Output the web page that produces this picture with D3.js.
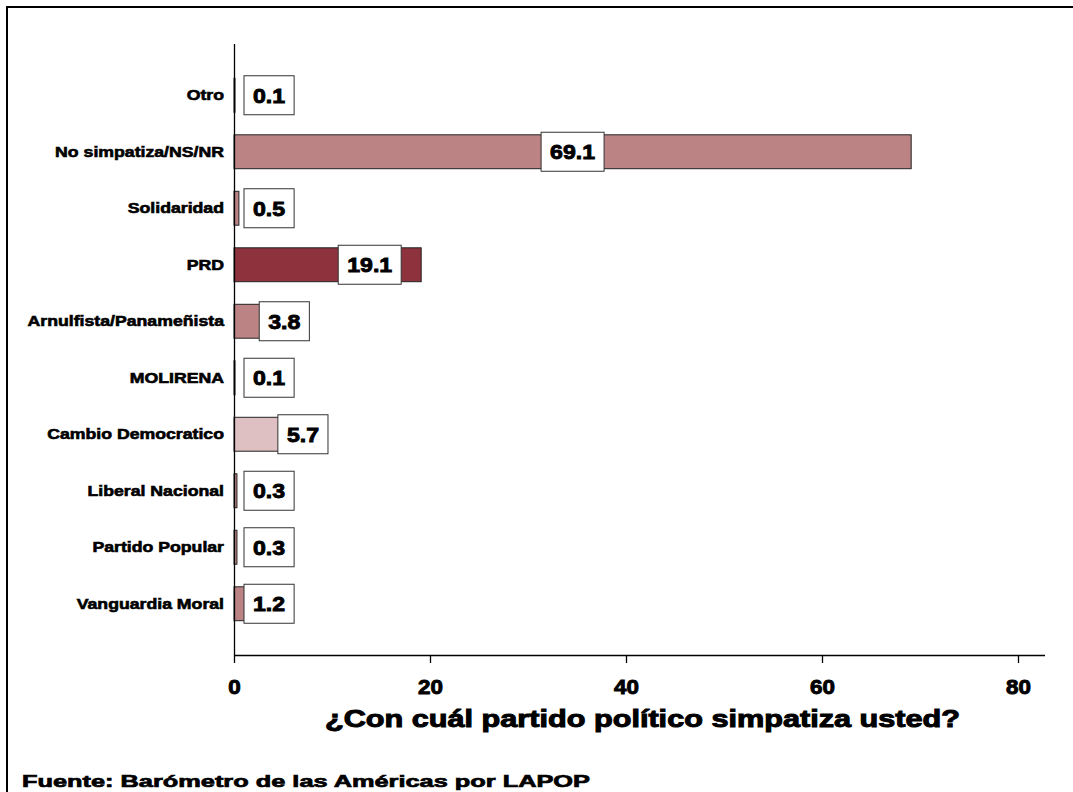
<!DOCTYPE html>
<html>
<head>
<meta charset="utf-8">
<script src="https://cdn.jsdelivr.net/npm/d3@7"></script>
<style>
  html, body { margin: 0; padding: 0; background: #fff; }
  svg { display: block; font-family: "Liberation Sans", Arial, sans-serif; font-weight: bold; }
</style>
</head>
<body>
<svg id="chart" width="1073" height="792"></svg>
<script>
// ---- data ----
const categories = ["Otro", "No simpatiza/NS/NR", "Solidaridad", "PRD", "Arnulfista/Panameñista",
                    "MOLIRENA", "Cambio Democratico", "Liberal Nacional", "Partido Popular", "Vanguardia Moral"];
const values = [0.1, 69.1, 0.5, 19.1, 3.8, 0.1, 5.7, 0.3, 0.3, 1.2];
const barColors = ["#BC8385", "#BC8385", "#BC8385", "#8E333D", "#BC8385",
                   "#BC8385", "#DFC0C2", "#BC8385", "#BC8385", "#BC8385"];
const xTicks = [0, 20, 40, 60, 80];
const xTitle = "¿Con cuál partido político simpatiza usted?";
const source = "Fuente: Barómetro de las Américas por LAPOP";

const svg = d3.select("#chart");

// outer frame (only top and left edges fall inside the picture)
svg.append("rect").attr("x", 7).attr("y", 7).attr("width", 1100).attr("height", 820)
  .attr("fill", "none").attr("stroke", "#000").attr("stroke-width", 2);

const x = d3.scaleLinear().domain([0, 80]).range([234, 1018]);
const y = d3.scaleBand().domain(categories).range([67, 632]).paddingInner(0.4).paddingOuter(0.2);

const data = categories.map((c, i) => ({ c, v: values[i], col: barColors[i] }));

// bars
svg.append("g").selectAll("rect").data(data).join("rect")
  .attr("x", x(0))
  .attr("y", d => y(d.c))
  .attr("width", d => Math.max(1, x(d.v) - x(0)))
  .attr("height", y.bandwidth())
  .attr("fill", d => d.col)
  .attr("stroke", "#222").attr("stroke-width", 1);

// y axis line
svg.append("line").attr("x1", 234.5).attr("x2", 234.5).attr("y1", 44).attr("y2", 655)
  .attr("stroke", "#000").attr("stroke-width", 1.3);

// x axis
const xAxis = svg.append("g").attr("transform", "translate(0,655)")
  .call(d3.axisBottom(x).tickValues(xTicks).tickSize(8).tickFormat(d3.format("d")).tickPadding(14));
xAxis.select(".domain").attr("d", "M234,0.5H1045").attr("stroke", "#000").attr("stroke-width", 1.3);
xAxis.selectAll(".tick line").attr("stroke", "#000").attr("stroke-width", 1.3);
xAxis.selectAll(".tick text")
  .attr("font-size", 20).attr("font-family", "Liberation Sans, Arial, sans-serif").attr("font-weight", "bold")
  .attr("fill", "#000").attr("stroke", "#000").attr("stroke-width", 0.9)
  .attr("dy", null).attr("y", 39)
  .attr("transform", "scale(1.12,1)");

// category labels
const catG = svg.append("g");
data.forEach(d => {
  catG.append("g").attr("transform", `translate(224,${y(d.c) + y.bandwidth() / 2}) scale(1.22,1)`)
    .append("text").attr("text-anchor", "end").attr("dy", "0.36em")
    .attr("font-size", 14.5).attr("fill", "#000").attr("stroke", "#000").attr("stroke-width", 0.6)
    .text(d.c);
});

// value labels in boxes
const labG = svg.append("g");
const fmt = d3.format(".1f");
const sx = 1.1;
data.forEach(d => {
  const g = labG.append("g");
  const rect = g.append("rect");
  const t = g.append("text").attr("font-size", 21).attr("fill", "#000")
    .attr("stroke", "#000").attr("stroke-width", 0.9)
    .attr("text-anchor", "middle").text(fmt(d.v));
  const tw = t.node().getComputedTextLength() * sx;
  const bw = tw + 18, bh = 39;
  let left;
  if (d.v >= 50) left = (x(0) + x(d.v)) / 2 - bw / 2;
  else if (d.v >= 10) left = x(d.v) - 20 - bw;
  else left = Math.max(x(d.v) - 12, x(0) + 10);
  const cy = y(d.c) + y.bandwidth() / 2;
  rect.attr("x", left).attr("y", cy - bh / 2).attr("width", bw).attr("height", bh)
    .attr("fill", "#fff").attr("stroke", "#333").attr("stroke-width", 1);
  t.attr("transform", `translate(${left + bw / 2},${cy + 7.5}) scale(${sx},1)`);
});

// axis title
svg.append("text").attr("x", 325).attr("y", 727).attr("font-size", 24)
  .attr("stroke", "#000").attr("stroke-width", 1)
  .attr("textLength", 635).attr("lengthAdjust", "spacingAndGlyphs").attr("fill", "#000").text(xTitle);

// source
svg.append("text").attr("x", 22).attr("y", 787).attr("font-size", 17)
  .attr("stroke", "#000").attr("stroke-width", 0.7)
  .attr("textLength", 568).attr("lengthAdjust", "spacingAndGlyphs").attr("fill", "#000").text(source);
</script>
</body>
</html>
